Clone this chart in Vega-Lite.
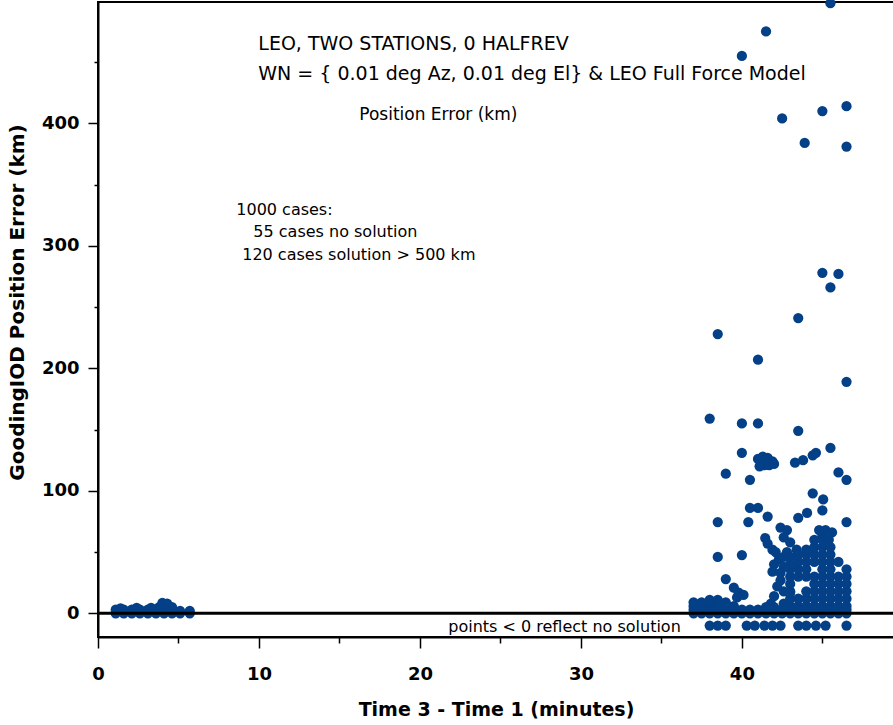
{
  "$schema": "https://vega.github.io/schema/vega-lite/v6.json",
  "width": 796,
  "height": 635,
  "autosize": "none",
  "padding": {"left": 98, "top": 2, "right": 0, "bottom": 88},
  "background": "white",
  "config": {
    "font": "DejaVu Sans",
    "view": {"stroke": "black", "strokeWidth": 2}
  },
  "layer": [
    {
      "data": {"values": [
        {"t":1.1,"v":0},{"t":1.1,"v":3},{"t":1.6,"v":0},{"t":1.6,"v":3},{"t":2.1,"v":0},{"t":2.1,"v":3},{"t":2.6,"v":0},{"t":2.6,"v":3},{"t":3.1,"v":0},{"t":3.1,"v":3},{"t":3.6,"v":0},{"t":3.6,"v":3},{"t":4.1,"v":0},{"t":4.1,"v":3},{"t":4.6,"v":0},{"t":4.6,"v":3},{"t":5.1,"v":0},{"t":5.1,"v":2},{"t":5.7,"v":0},{"t":5.7,"v":2},
        {"t":3.8,"v":5},{"t":4.0,"v":8.5},{"t":4.3,"v":8},{"t":4.6,"v":5},{"t":1.4,"v":4},{"t":2.4,"v":4.5},{"t":3.3,"v":4.5},
        {"t":37.0,"v":0},{"t":37.0,"v":3},{"t":37.5,"v":0},{"t":37.5,"v":3},{"t":38.0,"v":0},{"t":38.0,"v":3},{"t":38.5,"v":0},{"t":38.5,"v":3},{"t":39.0,"v":0},{"t":39.0,"v":3},{"t":39.5,"v":0},{"t":39.5,"v":3},{"t":40.0,"v":0},{"t":40.0,"v":3},{"t":40.5,"v":0},{"t":40.5,"v":3},{"t":41.0,"v":0},{"t":41.0,"v":3},{"t":41.5,"v":0},{"t":41.5,"v":3},{"t":42.0,"v":0},{"t":42.0,"v":3},{"t":42.5,"v":0},{"t":42.5,"v":3},{"t":43.0,"v":0},{"t":43.0,"v":3},{"t":43.5,"v":0},{"t":43.5,"v":3},{"t":44.0,"v":0},{"t":44.0,"v":3},{"t":44.5,"v":0},{"t":44.5,"v":3},{"t":45.0,"v":0},{"t":45.0,"v":3},{"t":45.5,"v":0},{"t":45.5,"v":3},{"t":46.0,"v":0},{"t":46.0,"v":3},{"t":46.5,"v":0},{"t":46.5,"v":3},
        {"t":37.0,"v":6},{"t":37.0,"v":9},{"t":37.5,"v":6},{"t":37.5,"v":9},{"t":38.0,"v":6},{"t":38.0,"v":9},{"t":38.0,"v":11},{"t":38.5,"v":6},{"t":38.5,"v":9},{"t":38.5,"v":11},{"t":39.0,"v":6},{"t":39.0,"v":9},{"t":39.5,"v":6},{"t":41.8,"v":8},{"t":42.0,"v":14},{"t":42.2,"v":22},{"t":42.6,"v":8},{"t":42.6,"v":18},{"t":41.5,"v":5},{"t":42.0,"v":5},
        {"t":38.0,"v":-10},{"t":38.5,"v":-10},{"t":39.0,"v":-10},{"t":40.3,"v":-10},{"t":40.8,"v":-10},{"t":41.4,"v":-10},{"t":41.9,"v":-10},{"t":42.4,"v":-10},{"t":43.5,"v":-10},{"t":44.0,"v":-10},{"t":44.6,"v":-10},{"t":45.2,"v":-10},{"t":46.5,"v":-10},
        {"t":43.0,"v":6},{"t":43.0,"v":12},{"t":43.0,"v":18},{"t":43.0,"v":24},{"t":43.0,"v":30},{"t":43.0,"v":36},{"t":43.0,"v":40},
        {"t":43.5,"v":6},{"t":43.5,"v":12},{"t":43.5,"v":30},{"t":43.5,"v":36},{"t":43.5,"v":42},{"t":43.5,"v":48},
        {"t":44.0,"v":6},{"t":44.0,"v":12},{"t":44.0,"v":18},{"t":44.0,"v":30},{"t":44.0,"v":36},{"t":44.0,"v":42},{"t":44.0,"v":48},{"t":44.0,"v":52},
        {"t":44.5,"v":6},{"t":44.5,"v":12},{"t":44.5,"v":18},{"t":44.5,"v":24},{"t":44.5,"v":30},{"t":44.5,"v":42},{"t":44.5,"v":48},{"t":44.5,"v":54},{"t":44.5,"v":60},
        {"t":45.0,"v":6},{"t":45.0,"v":12},{"t":45.0,"v":18},{"t":45.0,"v":24},{"t":45.0,"v":30},{"t":45.0,"v":36},{"t":45.0,"v":42},{"t":45.0,"v":48},{"t":45.0,"v":54},{"t":45.0,"v":60},{"t":45.0,"v":64},
        {"t":45.5,"v":6},{"t":45.5,"v":12},{"t":45.5,"v":18},{"t":45.5,"v":24},{"t":45.5,"v":30},{"t":45.5,"v":36},{"t":45.5,"v":42},{"t":45.5,"v":48},{"t":45.5,"v":54},
        {"t":46.0,"v":6},{"t":46.0,"v":12},{"t":46.0,"v":18},{"t":46.0,"v":24},{"t":46.0,"v":30},{"t":46.0,"v":42},
        {"t":46.5,"v":6},{"t":46.5,"v":12},{"t":46.5,"v":18},{"t":46.5,"v":24},{"t":46.5,"v":30},{"t":46.5,"v":36},
        {"t":45.2,"v":68},{"t":45.6,"v":66},{"t":45.4,"v":60},{"t":44.8,"v":68},
        {"t":42.0,"v":40},{"t":42.3,"v":44},{"t":42.6,"v":38},{"t":42.6,"v":46},{"t":43.0,"v":46},{"t":41.9,"v":52},
        {"t":45.5,"v":498},{"t":41.5,"v":475},{"t":40.0,"v":455},{"t":42.5,"v":404},{"t":45.0,"v":410},{"t":46.5,"v":414},{"t":43.9,"v":384},{"t":46.5,"v":381},
        {"t":45.0,"v":278},{"t":46.0,"v":277},{"t":45.5,"v":266},{"t":43.5,"v":241},{"t":38.5,"v":228},{"t":41.0,"v":207},{"t":46.5,"v":189},
        {"t":38.0,"v":159},{"t":40.0,"v":155},{"t":41.0,"v":155},{"t":43.5,"v":149},{"t":40.0,"v":131},{"t":39.0,"v":114},{"t":40.5,"v":109},
        {"t":41.0,"v":126},{"t":41.3,"v":128},{"t":41.6,"v":127},{"t":41.9,"v":124},{"t":41.1,"v":120},{"t":41.4,"v":121},{"t":41.7,"v":121},{"t":42.0,"v":122},
        {"t":43.3,"v":123},{"t":43.8,"v":125},{"t":44.4,"v":129},{"t":44.6,"v":131},{"t":45.5,"v":135},{"t":46.0,"v":115},{"t":46.5,"v":109},
        {"t":44.4,"v":98},{"t":45.05,"v":93},{"t":45.0,"v":84},{"t":46.5,"v":74.5},{"t":38.5,"v":74.5},{"t":40.4,"v":74.5},{"t":40.5,"v":86},{"t":41.0,"v":86},{"t":41.6,"v":79},{"t":43.5,"v":78},{"t":44.05,"v":82},
        {"t":38.5,"v":46},{"t":40.0,"v":47.6},{"t":39.0,"v":28},{"t":39.5,"v":21},{"t":39.8,"v":17},{"t":40.1,"v":15},{"t":39.7,"v":13},
        {"t":41.45,"v":61.5},{"t":41.6,"v":57},{"t":42.4,"v":70},{"t":42.8,"v":68},{"t":42.6,"v":62},{"t":43.0,"v":58},{"t":42.1,"v":50},{"t":42.8,"v":50},{"t":43.4,"v":52},{"t":41.9,"v":34},{"t":42.4,"v":33},{"t":42.4,"v":27},{"t":43.0,"v":17}
      ]},
      "mark": {"type": "point", "filled": true, "shape": "circle", "size": 105, "color": "#034087", "opacity": 1, "strokeWidth": 0},
      "encoding": {
        "x": {
          "field": "t", "type": "quantitative",
          "scale": {"domain": [0, 49.45], "nice": false, "zero": false},
          "axis": {
            "values": [0,5,10,15,20,25,30,35,40,45],
            "labelExpr": "datum.value % 10 === 0 ? datum.label : ''",
            "tickSize": {"condition": {"test": "datum.value % 10 !== 0", "value": 6}, "value": 11},
            "grid": false,
            "labelFlush": false,
            "domainColor": "black", "domainWidth": 2,
            "tickColor": "black", "tickWidth": 1.5,
            "labelFont": "DejaVu Sans", "labelFontWeight": "bold", "labelFontSize": 18, "labelColor": "black",
            "labelPadding": 17,
            "title": "Time 3 - Time 1 (minutes)",
            "titleFont": "DejaVu Sans", "titleFontWeight": "bold", "titleFontSize": 19, "titleColor": "black",
            "titlePadding": 17
          }
        },
        "y": {
          "field": "v", "type": "quantitative",
          "scale": {"domain": [-19.3, 499], "nice": false, "zero": false},
          "axis": {
            "values": [0,50,100,150,200,250,300,350,400,450],
            "labelExpr": "datum.value % 100 === 0 ? datum.label : ''",
            "tickSize": {"condition": {"test": "datum.value % 100 !== 0", "value": 4}, "value": 10},
            "grid": false,
            "labelFlush": false,
            "domainColor": "black", "domainWidth": 2,
            "tickColor": "black", "tickWidth": 1.5,
            "labelFont": "DejaVu Sans", "labelFontWeight": "bold", "labelFontSize": 18, "labelColor": "black",
            "labelPadding": 9,
            "title": "GoodingIOD Position Error (km)",
            "titleFont": "DejaVu Sans", "titleFontWeight": "bold", "titleFontSize": 20, "titleColor": "black",
            "titlePadding": 14,
            "titleY": 300
          }
        }
      }
    },
    {
      "data": {"values": [{}]},
      "mark": {"type": "rule", "color": "black", "strokeWidth": 3},
      "encoding": {"y": {"datum": 0}}
    },
    {
      "data": {"values": [{}]},
      "mark": {"type": "text", "text": "LEO, TWO STATIONS, 0 HALFREV", "align": "left", "baseline": "alphabetic", "font": "DejaVu Sans", "fontSize": 19, "color": "black"},
      "encoding": {"x": {"datum": 9.96}, "y": {"datum": 459.8}}
    },
    {
      "data": {"values": [{}]},
      "mark": {"type": "text", "text": "WN = { 0.01 deg Az, 0.01 deg  El}  &  LEO Full Force Model", "align": "left", "baseline": "alphabetic", "font": "DejaVu Sans", "fontSize": 19, "color": "black"},
      "encoding": {"x": {"datum": 9.96}, "y": {"datum": 435.3}}
    },
    {
      "data": {"values": [{}]},
      "mark": {"type": "text", "text": "Position Error (km)", "align": "left", "baseline": "alphabetic", "font": "DejaVu Sans", "fontSize": 17, "color": "black"},
      "encoding": {"x": {"datum": 16.23}, "y": {"datum": 402.7}}
    },
    {
      "data": {"values": [{}]},
      "mark": {"type": "text", "text": "1000 cases:", "align": "left", "baseline": "alphabetic", "font": "DejaVu Sans", "fontSize": 16, "color": "black"},
      "encoding": {"x": {"datum": 8.59}, "y": {"datum": 325}}
    },
    {
      "data": {"values": [{}]},
      "mark": {"type": "text", "text": "55 cases no solution", "align": "left", "baseline": "alphabetic", "font": "DejaVu Sans", "fontSize": 16, "color": "black"},
      "encoding": {"x": {"datum": 9.65}, "y": {"datum": 307.4}}
    },
    {
      "data": {"values": [{}]},
      "mark": {"type": "text", "text": "120 cases solution > 500 km", "align": "left", "baseline": "alphabetic", "font": "DejaVu Sans", "fontSize": 16, "color": "black"},
      "encoding": {"x": {"datum": 8.96}, "y": {"datum": 288.4}}
    },
    {
      "data": {"values": [{}]},
      "mark": {"type": "text", "text": "points < 0 reflect no solution", "align": "left", "baseline": "alphabetic", "font": "DejaVu Sans", "fontSize": 16, "color": "black"},
      "encoding": {"x": {"datum": 21.76}, "y": {"datum": -15}}
    }
  ]
}
